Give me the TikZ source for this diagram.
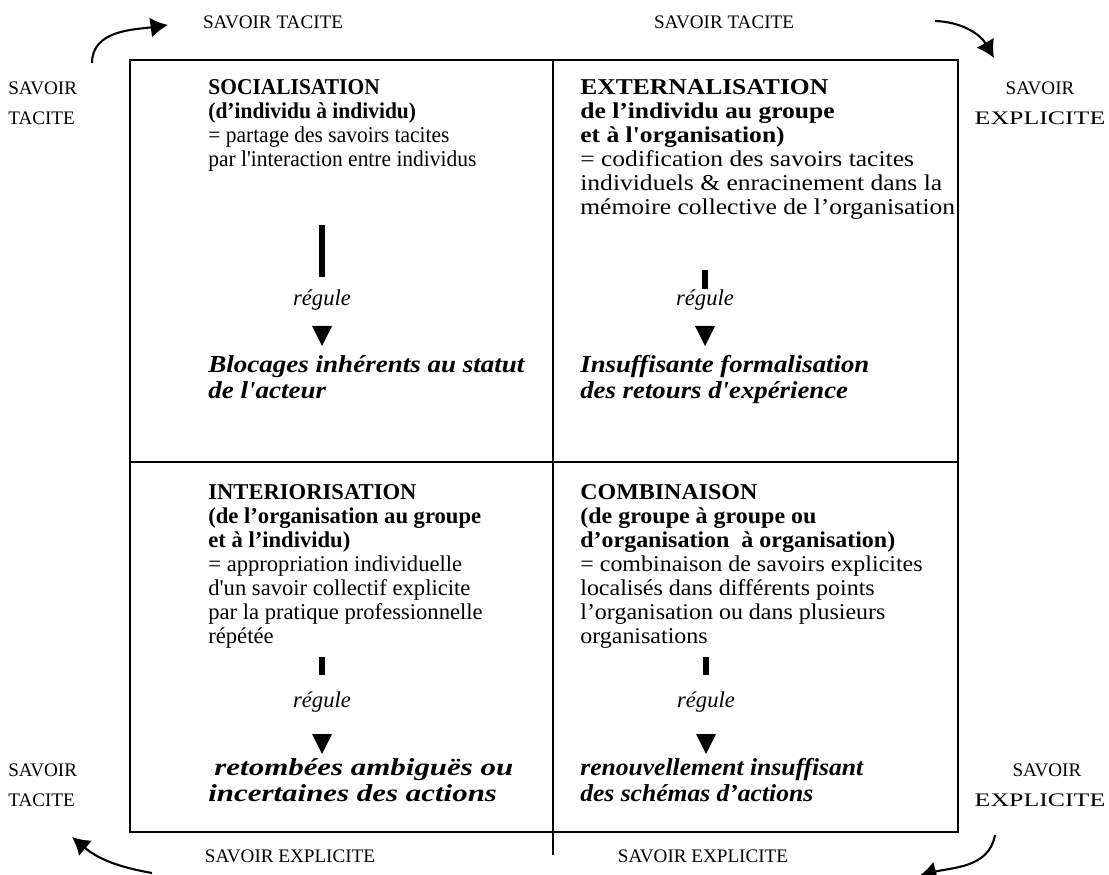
\documentclass[tikz,border=0pt]{standalone}
\usepackage{fontspec}
\setmainfont{Liberation Serif}[Ligatures=TeXOff]
\usetikzlibrary{arrows.meta,positioning}

\tikzset{
    quadtext/.style={anchor=north west, inner sep=0pt, align=left, font=\fontsize{13}{13.8}\selectfont\addfontfeatures{FakeStretch=#1}},
    quadtext/.default=1,
    blocage/.style={anchor=north west, inner sep=0pt, align=left, font=\fontsize{14}{15}\selectfont\bfseries\itshape\addfontfeatures{FakeStretch=#1}},
    blocage/.default=1,
    reglabel/.style={inner sep=0pt, font=\fontsize{13}{13.8}\selectfont\itshape},
    savoir/.style={inner sep=0pt, font=\fontsize{11}{17.25}\selectfont},
    cyclearrow/.style={line width=1.2pt, -{Latex[length=10pt,width=11.5pt]}},
}
\newcommand\wideword[1]{{\addfontfeatures{FakeStretch=1.35}#1}}

\begin{document}
\begin{tikzpicture}[x=0.575pt, y=-0.575pt]
    \useasboundingbox (0,0) rectangle (1109,875);

    % Matrix frame
    \draw[line width=0.9pt] (130,60) rectangle (958,832);
    \draw[line width=0.9pt] (553,60) -- (553,855);
    \draw[line width=0.9pt] (130,462) -- (958,462);

    % Quadrant texts
    \node[quadtext=0.95] (soc) at (208,79) {\textbf{SOCIALISATION}\\\textbf{(d’individu à individu)}\\= partage des savoirs tacites\\par l'interaction entre individus};
    \node[quadtext=1.13] (ext) at (580,79) {\textbf{EXTERNALISATION}\\\textbf{de l’individu au groupe}\\\textbf{et à l'organisation)}\\= codification des savoirs tacites\\individuels \& enracinement dans la\\mémoire collective de l’organisation};
    \node[quadtext=1.0] (int) at (208,484) {\textbf{INTERIORISATION}\\\textbf{(de l’organisation au groupe}\\\textbf{et à l’individu)}\\= appropriation individuelle\\d'un savoir collectif explicite\\par la pratique professionnelle\\répétée};
    \node[quadtext=1.06] (com) at (580,484) {\textbf{COMBINAISON}\\\textbf{(de groupe à groupe ou}\\\textbf{d’organisation\ \ à organisation)}\\= combinaison de savoirs explicites\\localisés dans différents points\\l’organisation ou dans plusieurs\\organisations};

    % Regulation marks (bar, label, head)
    \foreach \name/\x/\barA/\barB/\ylab/\ytri in {socr/322/225/277/300/326, extr/705/270/289/300/326, intr/322/657/675/702/734, comr/706/657/675/702/734} {
        \draw[line width=3.45pt] (\x,\barA) -- (\x,\barB);
        \node[reglabel] (\name) at (\x,\ylab) {régule};
        \fill (\x-10,\ytri) -- (\x+10,\ytri) -- (\x,\ytri+20) -- cycle;
    }

    % Blockages
    \node[blocage=1.11] (socb) at (208,355) {Blocages inhérents au statut\\de l'acteur};
    \node[blocage=1.1] (extb) at (580,355) {Insuffisante formalisation\\des retours d'expérience};
    \node[blocage=1.27] (intb) at (208,758) {\hspace*{0.25em}retombées ambiguës ou\\incertaines des actions};
    \node[blocage=1.05] (comb) at (580,758) {renouvellement insuffisant\\des schémas d’actions};

    % Knowledge labels
    \node[savoir] (tacN1) at (273,22) {SAVOIR TACITE};
    \node[savoir] (tacN2) at (724,22) {SAVOIR TACITE};
    \node[savoir, anchor=north west, align=left] (tacW1) at (8,81) {SAVOIR\\TACITE};
    \node[savoir, anchor=north, align=center] (expE1) at (1040,81) {SAVOIR\\\wideword{EXPLICITE}};
    \node[savoir, anchor=north west, align=left] (tacW2) at (8,763) {SAVOIR\\TACITE};
    \node[savoir, anchor=north, align=center] (expE2) at (1040,763) {\hspace*{8pt}SAVOIR\\\wideword{EXPLICITE}};
    \node[savoir] (expS1) at (290,856) {SAVOIR EXPLICITE};
    \node[savoir] (expS2) at (703,856) {SAVOIR EXPLICITE};

    % Spiral arrows
    \coordinate (nwA) at (92,63);   \coordinate (nwB) at (168,25);
    \coordinate (neA) at (935,21);  \coordinate (neB) at (994,58);
    \coordinate (swA) at (152,873); \coordinate (swB) at (72,837);
    \coordinate (seA) at (995,835); \coordinate (seB) at (919,876);
    \draw[cyclearrow] (nwA) to[out=90, in=188] (nwB);
    \draw[cyclearrow] (neA) to[out=-2, in=120] (neB);
    \draw[cyclearrow] (swA) to[out=170, in=-40] (swB);
    \draw[cyclearrow] (seA) to[out=-100, in=15] (seB);
\end{tikzpicture}
\end{document}
